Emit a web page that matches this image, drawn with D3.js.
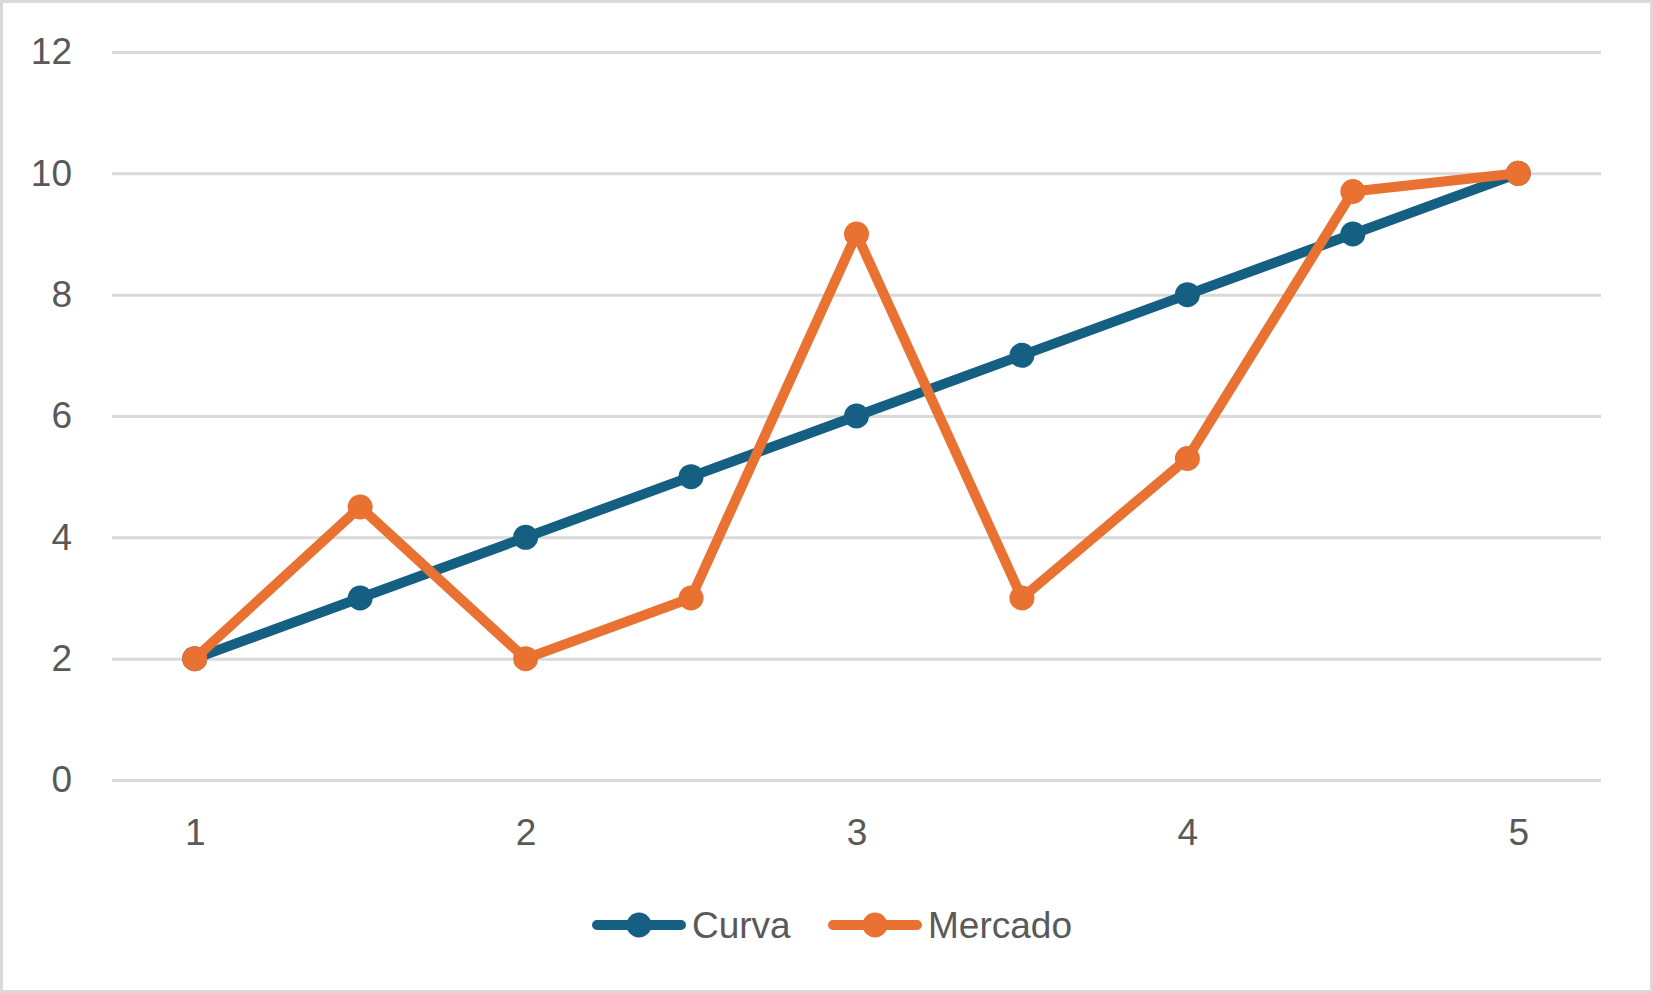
<!DOCTYPE html>
<html>
<head>
<meta charset="utf-8">
<script src="https://cdn.jsdelivr.net/npm/d3@7"></script>
<style>
  html, body { margin: 0; padding: 0; background: #fff; }
  svg { display: block; }
  text { font-family: "Liberation Sans", Arial, sans-serif; fill: #595959; }
</style>
</head>
<body>
<svg></svg>
<script>
// chart data
var xValues = [1, 1.5, 2, 2.5, 3, 3.5, 4, 4.5, 5];
var curvaValues = [2, 3, 4, 5, 6, 7, 8, 9, 10];
var mercadoValues = [2, 4.5, 2, 3, 9, 3, 5.3, 9.7, 10];
var xTickLabels = [1, 2, 3, 4, 5];
var yTickLabels = [0, 2, 4, 6, 8, 10, 12];
var seriesNames = ['Curva', 'Mercado'];
var seriesColors = ['#156082', '#E97132'];

var W = 1653, H = 993;
var FONT = '"Liberation Sans", Arial, sans-serif';
var svg = d3.select('svg').attr('width', W).attr('height', H);

// outer frame
svg.append('rect')
  .attr('x', 1.5).attr('y', 1.5)
  .attr('width', W - 3).attr('height', H - 3)
  .attr('fill', '#fff')
  .attr('stroke', '#d9d9d9')
  .attr('stroke-width', 3);

var x = d3.scaleLinear().domain([0.75, 5.25]).range([112, 1601]);
var y = d3.scaleLinear().domain([0, 12]).range([780, 52]);

// gridlines + y labels
var yAxis = d3.axisLeft(y).tickValues(yTickLabels).tickFormat(d3.format('d'))
  .tickSize(-(1601 - 112)).tickPadding(40);
var gy = svg.append('g').attr('transform', 'translate(112,0)').call(yAxis);
gy.select('.domain').remove();
gy.selectAll('line').attr('stroke', '#d9d9d9').attr('stroke-width', 3);
gy.selectAll('text').attr('font-size', 37).attr('fill', '#595959').attr('font-family', FONT);

// x labels
var xAxis = d3.axisBottom(x).tickValues(xTickLabels).tickFormat(d3.format('d'))
  .tickSize(0).tickPadding(39);
var gx = svg.append('g').attr('transform', 'translate(0,780)').call(xAxis);
gx.select('.domain').remove();
gx.selectAll('text').attr('font-size', 37).attr('fill', '#595959').attr('font-family', FONT);

var series = [curvaValues, mercadoValues].map(function(vals, i) {
  return {
    name: seriesNames[i],
    color: seriesColors[i],
    points: vals.map(function(v, j) { return {x: xValues[j], y: v}; })
  };
});

var line = d3.line().x(function(d) { return x(d.x); }).y(function(d) { return y(d.y); });

series.forEach(function(s) {
  var g = svg.append('g');
  g.append('path')
    .attr('d', line(s.points))
    .attr('fill', 'none')
    .attr('stroke', s.color)
    .attr('stroke-width', 10)
    .attr('stroke-linejoin', 'round')
    .attr('stroke-linecap', 'round');
  g.selectAll('circle').data(s.points).enter().append('circle')
    .attr('cx', function(d) { return x(d.x); })
    .attr('cy', function(d) { return y(d.y); })
    .attr('r', 12.5)
    .attr('fill', s.color);
});

// legend
var legendX = [597, 833];
var legend = svg.append('g');
series.forEach(function(s, i) {
  var lg = legend.append('g').attr('transform', 'translate(' + legendX[i] + ',925)');
  lg.append('line')
    .attr('x1', 0).attr('x2', 84).attr('y1', 0).attr('y2', 0)
    .attr('stroke', s.color).attr('stroke-width', 10).attr('stroke-linecap', 'round');
  lg.append('circle').attr('cx', 42).attr('cy', 0).attr('r', 12.5).attr('fill', s.color);
  lg.append('text')
    .attr('x', 95).attr('y', 13)
    .attr('font-size', 37)
    .text(s.name);
});
</script>
</body>
</html>
